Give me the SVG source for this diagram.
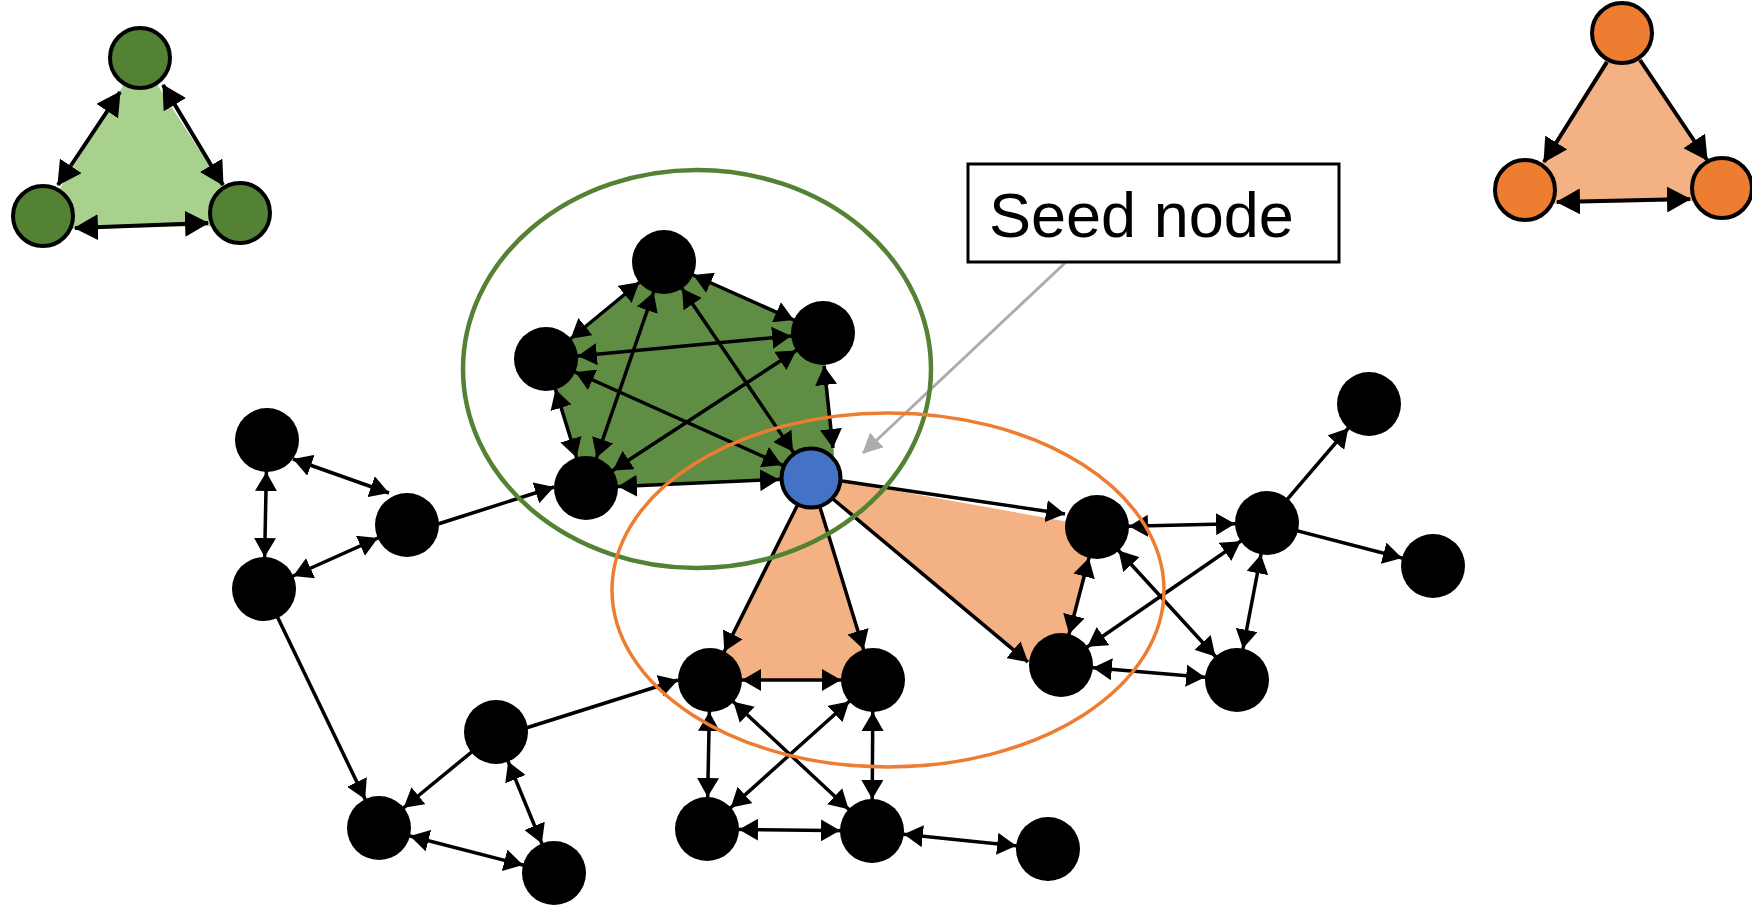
<svg xmlns="http://www.w3.org/2000/svg" width="1752" height="906" viewBox="0 0 1752 906">
<style>
.e{stroke:#000;stroke-width:3.5;fill:none;marker-end:url(#m)}
.b{marker-start:url(#m)}
.y{stroke:#000;stroke-width:3.5;fill:none;marker-end:url(#me)}
.x{stroke:#000;stroke-width:3.5;fill:none;marker-end:url(#me);marker-start:url(#me)}
.t{stroke:#000;stroke-width:4;fill:none;marker-end:url(#mt)}
.tb{marker-start:url(#mt)}
.n{fill:#000}
.gn{fill:#548235;stroke:#000;stroke-width:4}
.on{fill:#ED7D31;stroke:#000;stroke-width:4}
.lbl{font-family:"Liberation Sans",Arial,sans-serif;font-size:63px;fill:#000}
</style>
<defs>
<marker id="m" markerUnits="userSpaceOnUse" markerWidth="20" markerHeight="22" refX="51" refY="11" orient="auto-start-reverse"><path d="M0,0 L19,11 L0,22 Z" fill="#000"/></marker>
<marker id="me" markerUnits="userSpaceOnUse" markerWidth="20" markerHeight="22" refX="19" refY="11" orient="auto-start-reverse"><path d="M0,0 L19,11 L0,22 Z" fill="#000"/></marker>
<marker id="mt" markerUnits="userSpaceOnUse" markerWidth="25" markerHeight="26" refX="23" refY="13" orient="auto-start-reverse"><path d="M0,0 L24,13 L0,26 Z" fill="#000"/></marker>
<marker id="mg" markerUnits="userSpaceOnUse" markerWidth="21" markerHeight="20" refX="19" refY="10" orient="auto"><path d="M0,0 L20,10 L0,20 Z" fill="#AFABAB"/></marker>
</defs>
<rect width="1752" height="906" fill="#fff"/>

<g id="fills">
<polygon points="140,58 240,213 220,226 62,229 43,216" fill="#A9D18E"/>
<polygon points="1622,33 1722,188 1700,201 1545,204 1525,190" fill="#F4B183"/>
<polygon points="664,262 823,333 826,365 834,455 811,478 586,488 546,359" fill="#5F8D44"/>
<polygon points="811,478 710,680 873,680" fill="#F4B183"/>
<polygon points="811,478 842,481 1097,527 1061,665 1028,662 833,499" fill="#F4B183"/>
</g>

<g id="connectors">
<line class="t tb" x1="120" y1="92" x2="58" y2="185"/>
<line class="t tb" x1="163" y1="85" x2="223" y2="185"/>
<line class="t tb" x1="75" y1="228" x2="208" y2="223"/>
<line class="t" x1="1607" y1="62" x2="1544" y2="162"/>
<line class="t" x1="1640" y1="60" x2="1707" y2="160"/>
<line class="t tb" x1="1557" y1="202" x2="1690" y2="199"/>

<line class="e b" x1="267" y1="440" x2="264" y2="589"/>
<line class="x" x1="293" y1="459" x2="389" y2="493"/>
<line class="e b" x1="264" y1="589" x2="407" y2="525"/>
<line class="y" x1="438" y1="524" x2="554" y2="487"/>
<line class="e" x1="264" y1="589" x2="379" y2="828"/>

<line class="e b" x1="664" y1="262" x2="823" y2="333"/>
<line class="e b" x1="664" y1="262" x2="546" y2="359"/>
<line class="e b" x1="823" y1="333" x2="546" y2="359"/>
<line class="e b" x1="664" y1="262" x2="586" y2="488"/>
<line class="e b" x1="664" y1="262" x2="811" y2="478"/>
<line class="e b" x1="823" y1="333" x2="586" y2="488"/>
<line class="e b" x1="546" y1="359" x2="811" y2="478"/>
<line class="e b" x1="546" y1="359" x2="586" y2="488"/>
<line class="x" x1="824" y1="366" x2="833" y2="448"/>
<line class="e b" x1="586" y1="488" x2="811" y2="478"/>

<line class="y" x1="842" y1="481" x2="1065" y2="514"/>
<line class="y" x1="833" y1="499" x2="1028" y2="662"/>
<line class="e" x1="811" y1="478" x2="710" y2="680"/>
<line class="e" x1="811" y1="478" x2="873" y2="680"/>
<line class="e b" x1="710" y1="680" x2="873" y2="680"/>
<line class="e b" x1="1097" y1="527" x2="1061" y2="665"/>
<line class="e b" x1="1097" y1="527" x2="1237" y2="680"/>
<line class="e b" x1="1097" y1="527" x2="1267" y2="523"/>
<line class="e b" x1="1061" y1="665" x2="1267" y2="523"/>
<line class="e b" x1="1061" y1="665" x2="1237" y2="680"/>
<line class="e b" x1="1267" y1="523" x2="1237" y2="680"/>
<line class="e" x1="1267" y1="523" x2="1369" y2="404"/>
<line class="e" x1="1267" y1="523" x2="1433" y2="566"/>

<line class="y" x1="526" y1="728" x2="678" y2="680"/>
<line class="e" x1="496" y1="732" x2="379" y2="828"/>
<line class="e b" x1="496" y1="732" x2="554" y2="873"/>
<line class="e b" x1="379" y1="828" x2="554" y2="873"/>
<line class="e b" x1="710" y1="680" x2="707" y2="829"/>
<line class="e b" x1="710" y1="680" x2="872" y2="831"/>
<line class="e b" x1="873" y1="680" x2="707" y2="829"/>
<line class="e b" x1="873" y1="680" x2="872" y2="831"/>
<line class="e b" x1="707" y1="829" x2="872" y2="831"/>
<line class="e b" x1="872" y1="831" x2="1048" y2="849"/>

<line x1="1065" y1="263" x2="863" y2="453" stroke="#AFABAB" stroke-width="3" marker-end="url(#mg)"/>
</g>

<g id="green-triangle">
<circle class="gn" cx="140" cy="58" r="30"/>
<circle class="gn" cx="43" cy="216" r="30"/>
<circle class="gn" cx="240" cy="213" r="30"/>
</g>
<g id="orange-triangle">
<circle class="on" cx="1622" cy="33" r="30"/>
<circle class="on" cx="1525" cy="190" r="30"/>
<circle class="on" cx="1722" cy="188" r="30"/>
</g>

<g id="node-A"><circle class="n" cx="267" cy="440" r="32"/></g>
<g id="node-B"><circle class="n" cx="407" cy="525" r="32"/></g>
<g id="node-C"><circle class="n" cx="264" cy="589" r="32"/></g>
<g id="node-PT"><circle class="n" cx="664" cy="262" r="32"/></g>
<g id="node-PR"><circle class="n" cx="823" cy="333" r="32"/></g>
<g id="node-PL"><circle class="n" cx="546" cy="359" r="32"/></g>
<g id="node-PB"><circle class="n" cx="586" cy="488" r="32"/></g>
<g id="node-seed"><circle cx="811" cy="478" r="29.5" fill="#4472C4" stroke="#000" stroke-width="4"/></g>
<g id="node-D"><circle class="n" cx="1097" cy="527" r="32"/></g>
<g id="node-E"><circle class="n" cx="1061" cy="665" r="32"/></g>
<g id="node-F"><circle class="n" cx="710" cy="680" r="32"/></g>
<g id="node-G"><circle class="n" cx="873" cy="680" r="32"/></g>
<g id="node-H"><circle class="n" cx="496" cy="732" r="32"/></g>
<g id="node-I"><circle class="n" cx="379" cy="828" r="32"/></g>
<g id="node-J"><circle class="n" cx="554" cy="873" r="32"/></g>
<g id="node-K"><circle class="n" cx="707" cy="829" r="32"/></g>
<g id="node-L"><circle class="n" cx="872" cy="831" r="32"/></g>
<g id="node-M"><circle class="n" cx="1048" cy="849" r="32"/></g>
<g id="node-N"><circle class="n" cx="1267" cy="523" r="32"/></g>
<g id="node-O"><circle class="n" cx="1369" cy="404" r="32"/></g>
<g id="node-P"><circle class="n" cx="1433" cy="566" r="32"/></g>
<g id="node-Q"><circle class="n" cx="1237" cy="680" r="32"/></g>

<g id="communities">
<ellipse cx="697" cy="369" rx="234" ry="199" fill="none" stroke="#548235" stroke-width="4.5"/>
<ellipse cx="888" cy="590" rx="276" ry="177" fill="none" stroke="#ED7D31" stroke-width="3.5"/>
</g>

<g id="seed-label">
<rect x="968" y="164" width="371" height="98" fill="#fff" stroke="#000" stroke-width="3"/>
<text class="lbl" x="989" y="237">Seed node</text>
</g>
</svg>
